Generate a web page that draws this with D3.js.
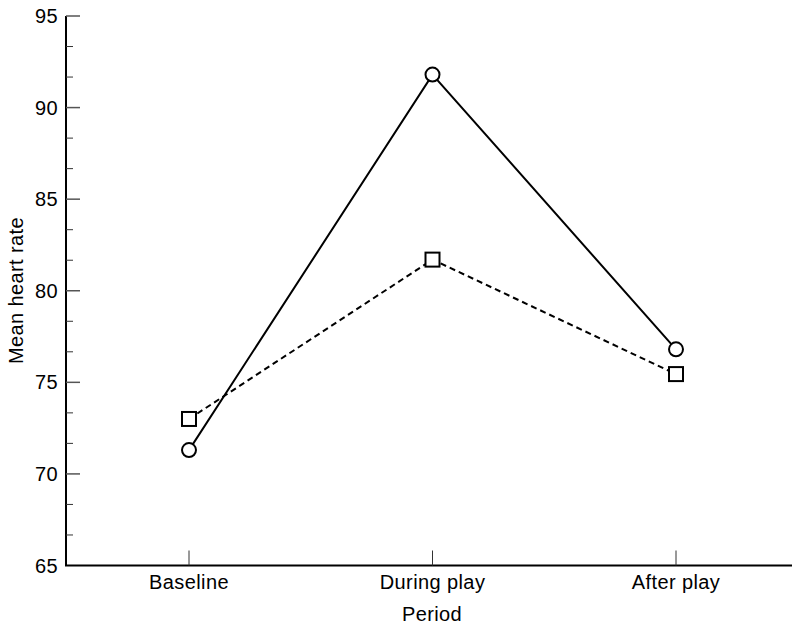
<!DOCTYPE html>
<html><head><meta charset="utf-8">
<script src="https://cdn.jsdelivr.net/npm/d3@7"></script>
<style>body{margin:0;background:#fff}svg{display:block}text{font-family:"Liberation Sans",Arial,sans-serif;fill:#000;letter-spacing:0.4px}</style>
</head><body>
<script>
const categories = ["Baseline", "During play", "After play"];
const seriesCircle = [71.3, 91.8, 76.8];
const seriesSquare = [73.0, 81.7, 75.45];
const yMajorTicks = [65, 70, 75, 80, 85, 90, 95];

const W = 792, H = 627;
const FS = 20;
const svg = d3.select("body").append("svg").attr("width", W).attr("height", H);
const x = d3.scalePoint().domain(categories).range([189, 676]);
const y = d3.scaleLinear().domain([65, 95]).range([565.5, 16]);
const left = 66, bottom = 565.5;

svg.append("line").attr("x1", left).attr("x2", left).attr("y1", y(95)).attr("y2", bottom)
  .attr("stroke", "#000").attr("stroke-width", 2);
svg.append("line").attr("x1", left - 1).attr("x2", W).attr("y1", bottom).attr("y2", bottom)
  .attr("stroke", "#000").attr("stroke-width", 2);

const minor = [];
for (let i = 0; i < yMajorTicks.length - 1; i++) {
  const a = yMajorTicks[i], b = yMajorTicks[i + 1];
  minor.push(a + (b - a) / 3, a + 2 * (b - a) / 3);
}
svg.selectAll(".ymaj").data(yMajorTicks.slice(1)).enter().append("line")
  .attr("x1", left).attr("x2", left + 14).attr("y1", d => y(d)).attr("y2", d => y(d))
  .attr("stroke", "#555").attr("stroke-width", 1.5);
svg.selectAll(".ymin").data(minor).enter().append("line")
  .attr("x1", left).attr("x2", left + 7).attr("y1", d => y(d)).attr("y2", d => y(d))
  .attr("stroke", "#333").attr("stroke-width", 1);
svg.selectAll(".ylab").data(yMajorTicks).enter().append("text")
  .attr("x", 58).attr("y", d => y(d)).attr("dy", "0.35em").attr("text-anchor", "end")
  .attr("font-size", FS).text(d => d);

svg.selectAll(".xt").data(categories).enter().append("line")
  .attr("x1", d => x(d)).attr("x2", d => x(d)).attr("y1", bottom).attr("y2", bottom - 15)
  .attr("stroke", "#333").attr("stroke-width", 1);
svg.selectAll(".xl").data(categories).enter().append("text")
  .attr("x", d => x(d)).attr("y", 589).attr("text-anchor", "middle")
  .attr("font-size", FS).text(d => d);

svg.append("text").attr("x", 432).attr("y", 621).attr("text-anchor", "middle")
  .attr("font-size", FS).text("Period");
svg.append("text").attr("transform", "translate(23,290.5) rotate(-90)").attr("text-anchor", "middle")
  .attr("font-size", FS).text("Mean heart rate");

const line = d3.line().x((d, i) => x(categories[i])).y(d => y(d));
svg.append("path").attr("d", line(seriesSquare)).attr("fill", "none").attr("stroke", "#000")
  .attr("stroke-width", 2).attr("stroke-dasharray", "6,4");
svg.append("path").attr("d", line(seriesCircle)).attr("fill", "none").attr("stroke", "#000")
  .attr("stroke-width", 2);

svg.selectAll(".sq").data(seriesSquare).enter().append("rect")
  .attr("x", (d, i) => x(categories[i]) - 7).attr("y", d => y(d) - 7)
  .attr("width", 14).attr("height", 14).attr("fill", "#fff").attr("stroke", "#000").attr("stroke-width", 2);
svg.selectAll(".ci").data(seriesCircle).enter().append("circle")
  .attr("cx", (d, i) => x(categories[i])).attr("cy", d => y(d)).attr("r", 7)
  .attr("fill", "#fff").attr("stroke", "#000").attr("stroke-width", 2);
</script>
</body></html>
